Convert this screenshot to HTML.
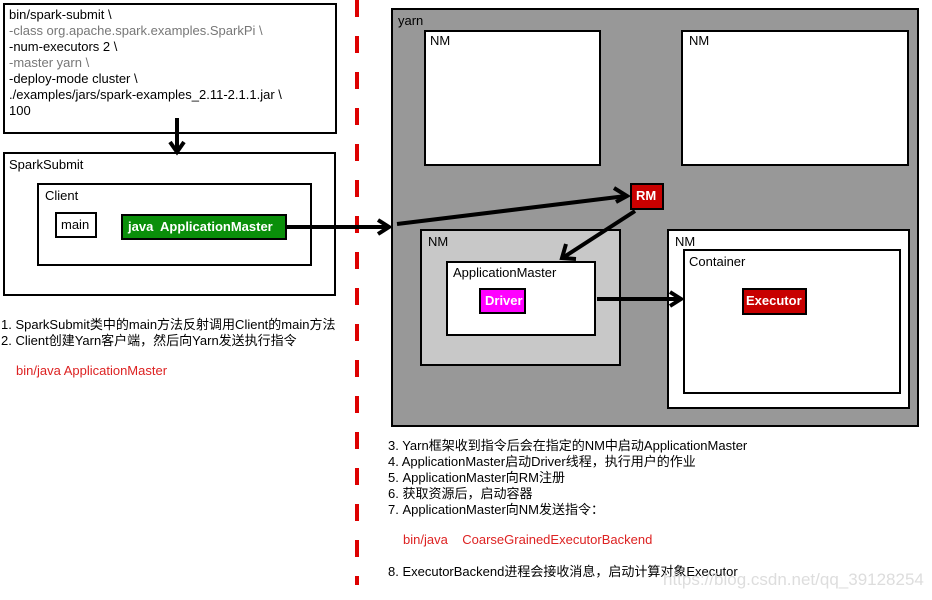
<!DOCTYPE html>
<html><head><meta charset="utf-8"><style>
body{margin:0;width:932px;height:600px;background:#fff;position:relative;overflow:hidden;font-family:"Liberation Sans","Noto Sans CJK SC",sans-serif;font-size:13px;color:#000}
.b{position:absolute;border:2px solid #000;box-sizing:border-box}
.t{position:absolute;white-space:nowrap;line-height:16px}
</style></head><body>
<div class="b" style="left:3px;top:3px;width:334px;height:131px;background:#fff"></div>
<div class="t" style="left:9px;top:7px;line-height:16px">bin/spark-submit \<br><span style="color:#777">-class org.apache.spark.examples.SparkPi \</span><br>-num-executors 2 \<br><span style="color:#777">-master yarn \</span><br>-deploy-mode cluster \<br>./examples/jars/spark-examples_2.11-2.1.1.jar \<br>100</div>
<div class="b" style="left:3px;top:152px;width:333px;height:144px"></div>
<div class="t" style="left:9px;top:157px">SparkSubmit</div>
<div class="b" style="left:37px;top:183px;width:275px;height:83px"></div>
<div class="t" style="left:45px;top:188px">Client</div>
<div class="b" style="left:55px;top:212px;width:42px;height:26px"></div>
<div class="t" style="left:61px;top:217px">main</div>
<div class="b" style="left:121px;top:214px;width:166px;height:26px;background:#0a8f0a"></div>
<div class="t" style="left:128px;top:219px;color:#fff;font-weight:bold">java&nbsp; ApplicationMaster</div>

<div class="b" style="left:391px;top:8px;width:528px;height:419px;background:#989898"></div>
<div class="t" style="left:398px;top:13px">yarn</div>
<div class="b" style="left:424px;top:30px;width:177px;height:136px;background:#fff"></div>
<div class="t" style="left:430px;top:33px">NM</div>
<div class="b" style="left:681px;top:30px;width:228px;height:136px;background:#fff"></div>
<div class="t" style="left:689px;top:33px">NM</div>
<div class="b" style="left:630px;top:183px;width:34px;height:27px;background:#c80000"></div>
<div class="t" style="left:636px;top:188px;color:#fff;font-weight:bold">RM</div>
<div class="b" style="left:420px;top:229px;width:201px;height:137px;background:#c8c8c8"></div>
<div class="t" style="left:428px;top:234px">NM</div>
<div class="b" style="left:446px;top:261px;width:150px;height:75px;background:#fff"></div>
<div class="t" style="left:453px;top:265px">ApplicationMaster</div>
<div class="b" style="left:479px;top:288px;width:47px;height:26px;background:#f0f"></div>
<div class="t" style="left:485px;top:293px;color:#fff;font-weight:bold">Driver</div>
<div class="b" style="left:667px;top:229px;width:243px;height:180px;background:#fff"></div>
<div class="t" style="left:675px;top:234px">NM</div>
<div class="b" style="left:683px;top:249px;width:218px;height:145px;background:#fff"></div>
<div class="t" style="left:689px;top:254px">Container</div>
<div class="b" style="left:742px;top:288px;width:65px;height:27px;background:#c80000"></div>
<div class="t" style="left:746px;top:293px;color:#fff;font-weight:bold">Executor</div>

<svg style="position:absolute;left:0;top:0" width="932" height="600">
<line x1="357" y1="0" x2="357" y2="585" stroke="#d00" stroke-width="4" stroke-dasharray="17,19"/>
<g stroke="#000" stroke-width="4" fill="none">
<line x1="177" y1="118" x2="177" y2="150"/><polyline points="170,142 177,152 184,142"/>
<line x1="287" y1="227" x2="388" y2="227"/><polyline points="378,220 389,227 378,234"/>
<line x1="397" y1="224" x2="626" y2="196"/><polyline points="614,188 627,196 616,202"/>
<line x1="635" y1="211" x2="564" y2="257"/><polyline points="566,244 562,258 576,259"/>
<line x1="597" y1="299" x2="680" y2="299"/><polyline points="670,292 681,299 670,306"/>
</g></svg>

<div class="t" style="left:1px;top:317px">1. SparkSubmit类中的main方法反射调用Client的main方法<br>2. Client创建Yarn客户端，然后向Yarn发送执行指令</div>
<div class="t" style="left:16px;top:363px;color:#d22">bin/java ApplicationMaster</div>
<div class="t" style="left:388px;top:438px">3. Yarn框架收到指令后会在指定的NM中启动ApplicationMaster<br>4. ApplicationMaster启动Driver线程，执行用户的作业<br>5. ApplicationMaster向RM注册<br>6. 获取资源后，启动容器<br>7. ApplicationMaster向NM发送指令：</div>
<div class="t" style="left:403px;top:532px;color:#d22">bin/java&nbsp;&nbsp;&nbsp; CoarseGrainedExecutorBackend</div>
<div class="t" style="left:388px;top:564px">8. ExecutorBackend进程会接收消息，启动计算对象Executor</div>
<div class="t" style="left:663px;top:572px;color:#ddd;font-size:17px">https://blog.csdn.net/qq_39128254</div>
</body></html>
